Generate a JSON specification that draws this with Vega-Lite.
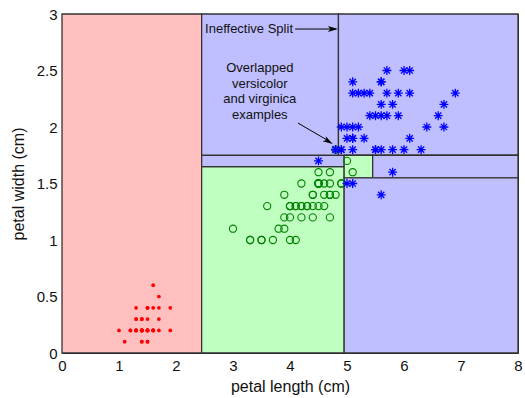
{
  "$schema": "https://vega.github.io/schema/vega-lite/v6.json",
  "width": 456,
  "height": 339,
  "autosize": {"type": "none"},
  "padding": {"left": 62, "top": 14, "right": 7, "bottom": 45},
  "background": "white",
  "config": {
    "view": {"stroke": "#222", "strokeWidth": 1},
    "font": "Liberation Sans",
    "axis": {"grid": false, "ticks": false, "domain": false, "labelFlush": false, "labelFont": "Liberation Sans", "titleFont": "Liberation Sans", "labelFontSize": 15, "titleFontSize": 16, "titleFontWeight": "normal", "labelColor": "#111", "titleColor": "#111"}
  },
  "datasets": {
    "regions": [
      {"x": 0, "x2": 2.45, "y": 0, "y2": 3, "cls": "setosa"},
      {"x": 2.45, "x2": 4.95, "y": 0, "y2": 1.65, "cls": "versicolor"},
      {"x": 2.45, "x2": 4.95, "y": 1.65, "y2": 1.75, "cls": "virginica"},
      {"x": 2.45, "x2": 4.85, "y": 1.75, "y2": 3, "cls": "virginica"},
      {"x": 4.85, "x2": 8, "y": 1.75, "y2": 3, "cls": "virginica"},
      {"x": 4.95, "x2": 5.45, "y": 1.55, "y2": 1.75, "cls": "versicolor"},
      {"x": 5.45, "x2": 8, "y": 1.55, "y2": 1.75, "cls": "virginica"},
      {"x": 4.95, "x2": 8, "y": 0, "y2": 1.55, "cls": "virginica"}
    ],
    "setosa": [
      {"l":1.4,"w":0.2},{"l":1.4,"w":0.2},{"l":1.3,"w":0.2},{"l":1.5,"w":0.2},{"l":1.4,"w":0.2},{"l":1.7,"w":0.4},{"l":1.4,"w":0.3},{"l":1.5,"w":0.2},{"l":1.4,"w":0.2},{"l":1.5,"w":0.1},
      {"l":1.5,"w":0.2},{"l":1.6,"w":0.2},{"l":1.4,"w":0.1},{"l":1.1,"w":0.1},{"l":1.2,"w":0.2},{"l":1.5,"w":0.4},{"l":1.3,"w":0.4},{"l":1.4,"w":0.3},{"l":1.7,"w":0.3},{"l":1.5,"w":0.3},
      {"l":1.7,"w":0.2},{"l":1.5,"w":0.4},{"l":1.0,"w":0.2},{"l":1.7,"w":0.5},{"l":1.9,"w":0.2},{"l":1.6,"w":0.2},{"l":1.6,"w":0.4},{"l":1.5,"w":0.2},{"l":1.4,"w":0.2},{"l":1.6,"w":0.2},
      {"l":1.6,"w":0.2},{"l":1.5,"w":0.4},{"l":1.5,"w":0.1},{"l":1.4,"w":0.2},{"l":1.5,"w":0.2},{"l":1.2,"w":0.2},{"l":1.3,"w":0.2},{"l":1.4,"w":0.1},{"l":1.3,"w":0.2},{"l":1.5,"w":0.2},
      {"l":1.3,"w":0.3},{"l":1.3,"w":0.3},{"l":1.3,"w":0.2},{"l":1.6,"w":0.6},{"l":1.9,"w":0.4},{"l":1.4,"w":0.3},{"l":1.6,"w":0.2},{"l":1.4,"w":0.2},{"l":1.5,"w":0.2},{"l":1.4,"w":0.2}
    ],
    "versicolor": [
      {"l":4.7,"w":1.4},{"l":4.5,"w":1.5},{"l":4.9,"w":1.5},{"l":4.0,"w":1.3},{"l":4.6,"w":1.5},{"l":4.5,"w":1.3},{"l":4.7,"w":1.6},{"l":3.3,"w":1.0},{"l":4.6,"w":1.3},{"l":3.9,"w":1.4},
      {"l":3.5,"w":1.0},{"l":4.2,"w":1.5},{"l":4.0,"w":1.0},{"l":4.7,"w":1.4},{"l":3.6,"w":1.3},{"l":4.4,"w":1.4},{"l":4.5,"w":1.5},{"l":4.1,"w":1.0},{"l":4.5,"w":1.5},{"l":3.9,"w":1.1},
      {"l":4.8,"w":1.8},{"l":4.0,"w":1.3},{"l":4.9,"w":1.5},{"l":4.7,"w":1.2},{"l":4.3,"w":1.3},{"l":4.4,"w":1.4},{"l":4.8,"w":1.4},{"l":5.0,"w":1.7},{"l":4.5,"w":1.5},{"l":3.5,"w":1.0},
      {"l":3.8,"w":1.1},{"l":3.7,"w":1.0},{"l":3.9,"w":1.2},{"l":5.1,"w":1.6},{"l":4.5,"w":1.5},{"l":4.5,"w":1.6},{"l":4.7,"w":1.5},{"l":4.4,"w":1.3},{"l":4.1,"w":1.3},{"l":4.0,"w":1.3},
      {"l":4.4,"w":1.2},{"l":4.6,"w":1.4},{"l":4.0,"w":1.2},{"l":3.3,"w":1.0},{"l":4.2,"w":1.3},{"l":4.2,"w":1.2},{"l":4.2,"w":1.3},{"l":4.3,"w":1.3},{"l":3.0,"w":1.1},{"l":4.1,"w":1.3}
    ],
    "virginica": [
      {"l":6.0,"w":2.5},{"l":5.1,"w":1.9},{"l":5.9,"w":2.1},{"l":5.6,"w":1.8},{"l":5.8,"w":2.2},{"l":6.6,"w":2.1},{"l":4.5,"w":1.7},{"l":6.3,"w":1.8},{"l":5.8,"w":1.8},{"l":6.1,"w":2.5},
      {"l":5.1,"w":2.0},{"l":5.3,"w":1.9},{"l":5.5,"w":2.1},{"l":5.0,"w":2.0},{"l":5.1,"w":2.4},{"l":5.3,"w":2.3},{"l":5.5,"w":1.8},{"l":6.7,"w":2.2},{"l":6.9,"w":2.3},{"l":5.0,"w":1.5},
      {"l":5.7,"w":2.3},{"l":4.9,"w":2.0},{"l":6.7,"w":2.0},{"l":4.9,"w":1.8},{"l":5.7,"w":2.1},{"l":6.0,"w":1.8},{"l":4.8,"w":1.8},{"l":4.9,"w":1.8},{"l":5.6,"w":2.1},{"l":5.8,"w":1.6},
      {"l":6.1,"w":1.9},{"l":6.4,"w":2.0},{"l":5.6,"w":2.2},{"l":5.1,"w":1.5},{"l":5.6,"w":1.4},{"l":6.1,"w":2.3},{"l":5.6,"w":2.4},{"l":5.5,"w":1.8},{"l":4.8,"w":1.8},{"l":5.4,"w":2.1},
      {"l":5.6,"w":2.4},{"l":5.1,"w":2.3},{"l":5.1,"w":1.9},{"l":5.9,"w":2.3},{"l":5.7,"w":2.5},{"l":5.2,"w":2.3},{"l":5.0,"w":1.9},{"l":5.2,"w":2.0},{"l":5.4,"w":2.3},{"l":5.1,"w":1.8}
    ],
    "arrows": [
      {"x": 4.09, "y": 2.867, "x2": 4.8, "y2": 2.867},
      {"x": 4.14, "y": 2.035, "x2": 4.7, "y2": 1.87}
    ],
    "heads": [
      {"x": 4.84, "y": 2.867, "angle": 0},
      {"x": 4.75, "y": 1.85, "angle": 31}
    ],
    "leftLabels": [
      {"x": 2.51, "y": 2.867, "text": "Ineffective Split"}
    ],
    "centerLabels": [
      {"x": 3.47, "y": 2.522, "text": "Overlapped\nversicolor\nand virginica\nexamples"}
    ]
  },
  "layer": [
    {
      "data": {"name": "regions"},
      "mark": {"type": "rect", "stroke": "#333", "strokeWidth": 1.3},
      "encoding": {
        "x": {"field": "x", "type": "quantitative", "scale": {"domain": [0, 8], "nice": false, "zero": false}, "axis": {"values": [0,1,2,3,4,5,6,7,8], "labelExpr": "datum.value + ''", "title": "petal length (cm)", "labelPadding": 5, "titlePadding": 5}},
        "x2": {"field": "x2"},
        "y": {"field": "y", "type": "quantitative", "scale": {"domain": [0, 3], "nice": false, "zero": false}, "axis": {"values": [0,0.5,1,1.5,2,2.5,3], "labelExpr": "datum.value + ''", "title": "petal width (cm)", "labelPadding": 5, "titlePadding": 10}},
        "y2": {"field": "y2"},
        "fill": {"field": "cls", "type": "nominal", "scale": {"domain": ["setosa", "versicolor", "virginica"], "range": ["#ffbfbf", "#bfffbf", "#bfbfff"]}, "legend": null}
      }
    },
    {
      "data": {"name": "setosa"},
      "mark": {"type": "circle", "color": "#ff0000", "size": 14, "opacity": 1},
      "encoding": {"x": {"field": "l", "type": "quantitative"}, "y": {"field": "w", "type": "quantitative"}}
    },
    {
      "data": {"name": "versicolor"},
      "mark": {"type": "point", "shape": "circle", "filled": false, "stroke": "#008000", "strokeWidth": 1.1, "size": 52, "opacity": 1},
      "encoding": {"x": {"field": "l", "type": "quantitative"}, "y": {"field": "w", "type": "quantitative"}}
    },
    {
      "data": {"name": "virginica"},
      "mark": {"type": "point", "shape": "M-1,0L1,0M0,-1L0,1M-0.7,-0.7L0.7,0.7M-0.7,0.7L0.7,-0.7", "filled": false, "stroke": "#0000ff", "strokeWidth": 1.3, "size": 80, "opacity": 1},
      "encoding": {"x": {"field": "l", "type": "quantitative"}, "y": {"field": "w", "type": "quantitative"}}
    },
    {
      "data": {"name": "arrows"},
      "mark": {"type": "rule", "color": "#000", "strokeWidth": 1},
      "encoding": {"x": {"field": "x", "type": "quantitative"}, "y": {"field": "y", "type": "quantitative"}, "x2": {"field": "x2"}, "y2": {"field": "y2"}}
    },
    {
      "data": {"name": "heads"},
      "mark": {"type": "point", "shape": "M0,0L-2,-0.6L-1.5,0L-2,0.6Z", "filled": true, "color": "#000", "size": 100, "opacity": 1},
      "encoding": {"x": {"field": "x", "type": "quantitative"}, "y": {"field": "y", "type": "quantitative"}, "angle": {"field": "angle", "type": "quantitative", "scale": null}}
    },
    {
      "data": {"name": "leftLabels"},
      "mark": {"type": "text", "fontSize": 13, "font": "Liberation Sans", "color": "#111", "align": "left", "baseline": "middle"},
      "encoding": {"x": {"field": "x", "type": "quantitative"}, "y": {"field": "y", "type": "quantitative"}, "text": {"field": "text"}}
    },
    {
      "data": {"name": "centerLabels"},
      "mark": {"type": "text", "fontSize": 13, "font": "Liberation Sans", "color": "#111", "align": "center", "baseline": "middle", "lineBreak": "\n", "lineHeight": 15.5},
      "encoding": {"x": {"field": "x", "type": "quantitative"}, "y": {"field": "y", "type": "quantitative"}, "text": {"field": "text"}}
    }
  ]
}
